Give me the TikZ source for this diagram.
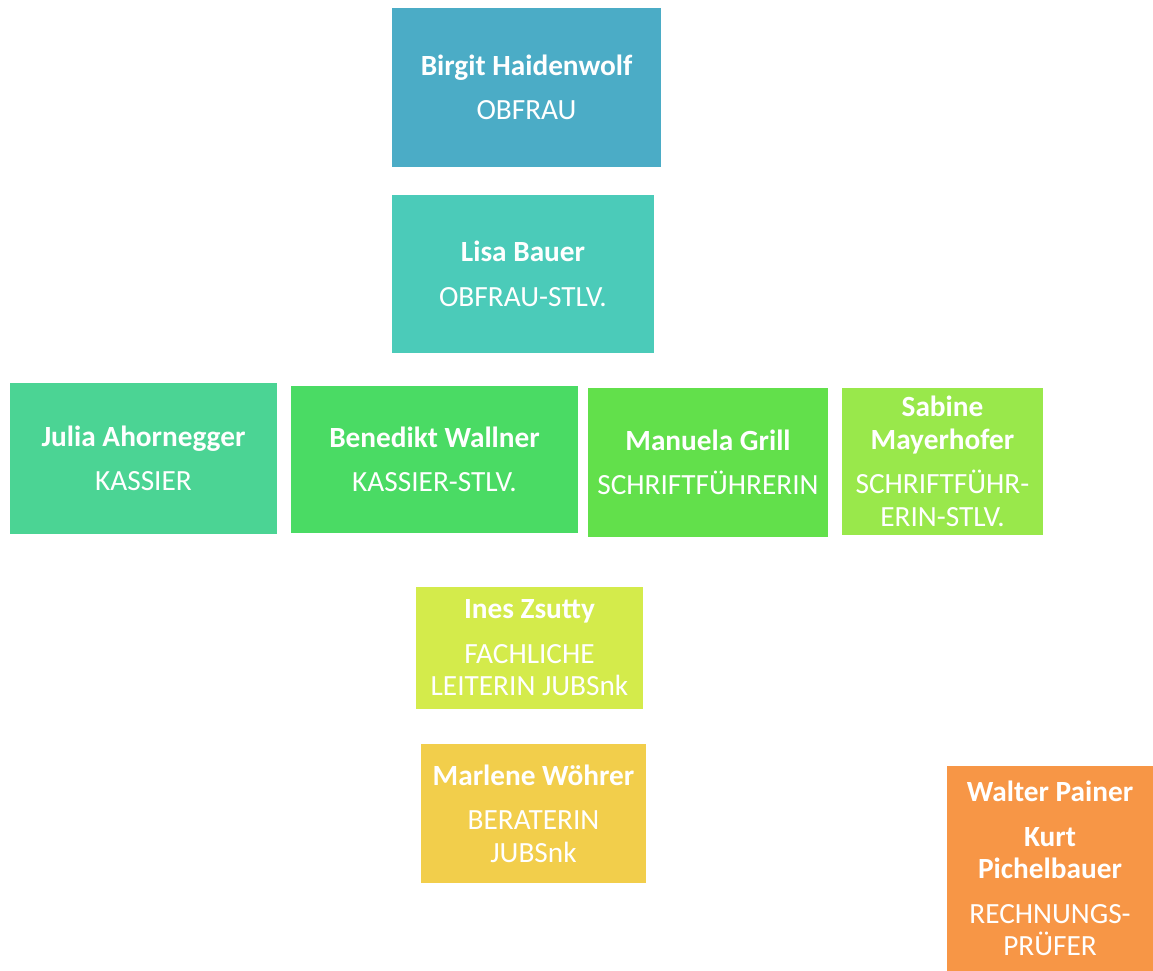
\documentclass[tikz,border=0pt]{standalone}
\usepackage{fontspec}
\setmainfont{Carlito}
\definecolor{cBirgit}{RGB}{75,172,198}
\definecolor{cLisa}{RGB}{75,203,185}
\definecolor{cJulia}{RGB}{75,212,148}
\definecolor{cBene}{RGB}{74,219,100}
\definecolor{cManu}{RGB}{98,224,75}
\definecolor{cSabine}{RGB}{153,232,75}
\definecolor{cInes}{RGB}{212,235,75}
\definecolor{cMarlene}{RGB}{242,206,75}
\definecolor{cWalter}{RGB}{247,150,70}
\tikzset{
  orgbox/.style={rectangle, inner sep=0pt, text=white, align=center,
    font=\fontsize{29.3}{32.5}\selectfont},
}
\newcommand{\nm}[1]{\textbf{#1}}
\begin{document}
\begin{tikzpicture}[x=1pt,y=-1pt]
\useasboundingbox (0,0) rectangle (1153,971);
\node[orgbox, fill=cBirgit, minimum width=269pt, minimum height=159pt] (birgit) at (526.5,87.5)
  {\nm{Birgit Haidenwolf}\\[12pt]OBFRAU};
\node[orgbox, fill=cLisa, minimum width=262pt, minimum height=158pt] (lisa) at (523,274)
  {\nm{Lisa Bauer}\\[12pt]OBFRAU-STLV.};
\node[orgbox, fill=cJulia, minimum width=267pt, minimum height=151pt] (julia) at (143.5,458.5)
  {\nm{Julia Ahornegger}\\[12pt]KASSIER};
\node[orgbox, fill=cBene, minimum width=287pt, minimum height=147pt] (bene) at (434.5,459.5)
  {\nm{Benedikt Wallner}\\[12pt]KASSIER-STLV.};
\node[orgbox, fill=cManu, minimum width=240pt, minimum height=149pt] (manu) at (708,462.5)
  {\nm{Manuela Grill}\\[12pt]SCHRIFTFÜHRERIN};
\node[orgbox, fill=cSabine, minimum width=201pt, minimum height=147pt] (sabine) at (942.5,461.5)
  {\nm{Sabine}\\\nm{Mayerhofer}\\[12pt]SCHRIFTFÜHR-\\ERIN-STLV.};
\node[orgbox, fill=cInes, minimum width=227pt, minimum height=122pt] (ines) at (529.5,648)
  {\nm{Ines Zsutty}\\[12pt]FACHLICHE\\LEITERIN JUBSnk};
\node[orgbox, fill=cMarlene, minimum width=225pt, minimum height=139pt] (marlene) at (533.5,813.5)
  {\nm{Marlene Wöhrer}\\[12pt]BERATERIN\\JUBSnk};
\node[orgbox, fill=cWalter, minimum width=206pt, minimum height=205pt] (walter) at (1050,868.5)
  {\nm{Walter Painer}\\[12pt]\nm{Kurt}\\\nm{Pichelbauer}\\[12pt]RECHNUNGS-\\PRÜFER};
\end{tikzpicture}
\end{document}
